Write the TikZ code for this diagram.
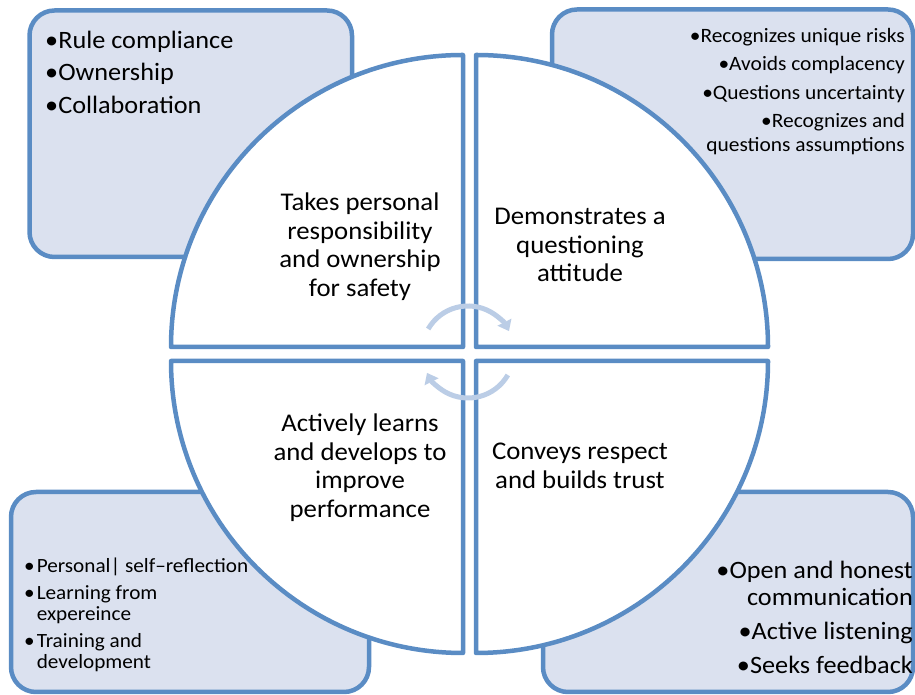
\documentclass[tikz,border=0pt]{standalone}
\usepackage{fontspec}
\setmainfont{Carlito}[FakeStretch=1.05]
\usetikzlibrary{arrows.meta,calc}
\definecolor{boxfill}{RGB}{219,225,239}
\definecolor{edgeblue}{RGB}{90,140,196}
\definecolor{cyc}{RGB}{187,205,230}
\begin{document}
\begin{tikzpicture}[x=1pt,y=1pt,
  cornerbox/.style={draw=edgeblue, fill=boxfill, line width=4.5pt, rounded corners=25pt},
  quad/.style={draw=edgeblue, fill=white, line width=4.5pt, line join=round},
  cyclearrow/.style={draw=cyc, line width=5pt, -{Triangle[width=15pt,length=10pt]}},
  txt/.style={inner sep=0pt, text=black}
]
\useasboundingbox (0,0) rectangle (915,695);
% corner boxes
\draw[cornerbox] (29.5,438) rectangle (352,684.5);
\draw[cornerbox] (552,436) rectangle (913,685.5);
\draw[cornerbox] (11,3) rectangle (369,203);
\draw[cornerbox] (543,3) rectangle (913,203);
% quadrants
\draw[quad] (463,348) -- (463,640) arc[start angle=90, end angle=180, radius=292] -- cycle;
\draw[quad] (476,348) -- (768,348) arc[start angle=0, end angle=90, radius=292] -- cycle;
\draw[quad] (463,334) -- (171,334) arc[start angle=180, end angle=270, radius=292] -- cycle;
\draw[quad] (476,334) -- (476,42) arc[start angle=270, end angle=360, radius=292] -- cycle;
% cycle arrows
\coordinate (cc) at (468,343);
\draw[cyclearrow] ($(cc)+(150:46)$) arc[start angle=150, end angle=27, radius=46];
\draw[cyclearrow] ($(cc)+(-30:46)$) arc[start angle=-30, end angle=-153, radius=46];
% quadrant texts
\node[txt, anchor=base] (q1) at (360,484.3) {\fontsize{25.5}{28.5}\selectfont\begin{tabular}[t]{@{}c@{}}Takes personal\\responsibility\\and ownership\\for safety\end{tabular}};
\node[txt, anchor=base] (q2) at (580,470.3) {\fontsize{25.5}{28.5}\selectfont\begin{tabular}[t]{@{}c@{}}Demonstrates a\\questioning\\attitude\end{tabular}};
\node[txt, anchor=base] (q3) at (360,263.3) {\fontsize{25.5}{28.5}\selectfont\begin{tabular}[t]{@{}c@{}}Actively learns\\and develops to\\improve\\performance\end{tabular}};
\node[txt, anchor=base] (q4) at (580,235.3) {\fontsize{25.5}{28.5}\selectfont\begin{tabular}[t]{@{}c@{}}Conveys respect\\and builds trust\end{tabular}};
% corner texts
\node[txt, anchor=base west] (c1) at (45,646.7) {\fontsize{25}{32.5}\selectfont\begin{tabular}[t]{@{}l@{}}•Rule compliance\\•Ownership\\•Collaboration\end{tabular}};
\node[txt, anchor=base east] (c2) at (905,652.7) {\fontsize{20.4}{23.5}\selectfont\begin{tabular}[t]{@{}r@{}}•Recognizes unique risks\\[5pt]•Avoids complacency\\[5pt]•Questions uncertainty\\[5pt]•Recognizes and\\questions assumptions\end{tabular}};
\node[txt, anchor=base west] (c3) at (24,122.3) {\fontsize{20.2}{21}\selectfont\begin{tabular}[t]{@{}l@{\hspace{2pt}}l@{}}•&Personal| self–reflection\\[6pt]•&Learning from\\&expereince\\[6pt]•&Training and\\&development\end{tabular}};
\node[txt, anchor=base east] (c4) at (913,116) {\fontsize{25}{27}\selectfont\begin{tabular}[t]{@{}r@{}}•Open and honest\\communication\\[7pt]•Active listening\\[7pt]•Seeks feedback\end{tabular}};
\end{tikzpicture}
\end{document}
